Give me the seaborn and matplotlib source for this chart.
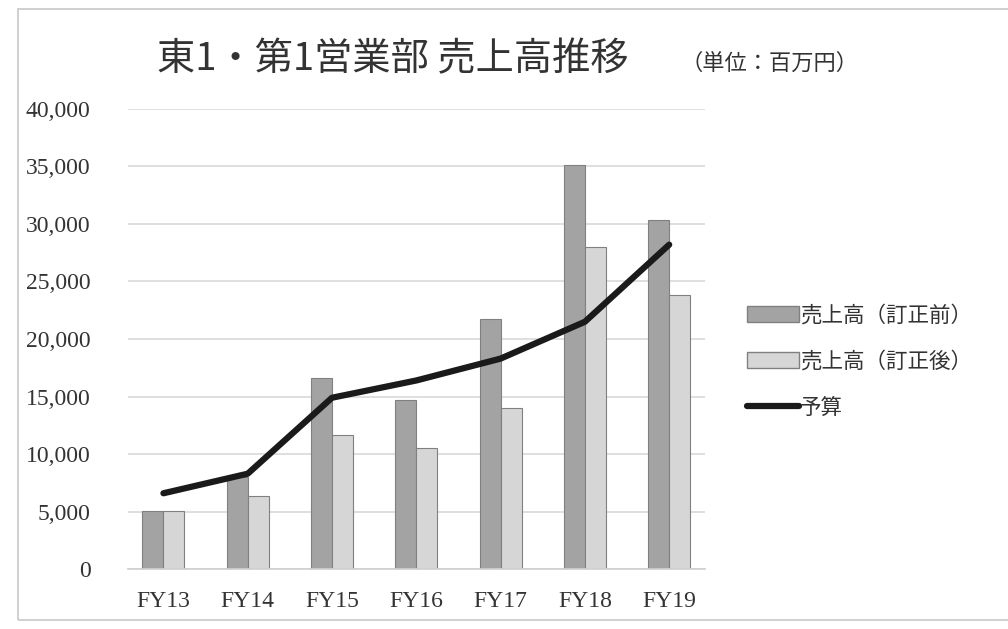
import numpy as np
import pandas as pd
import matplotlib
matplotlib.use("Agg")
import matplotlib.pyplot as plt
import seaborn as sns
from matplotlib.patches import Patch, Rectangle
from matplotlib.lines import Line2D
from matplotlib.ticker import FuncFormatter

categories = ["FY13", "FY14", "FY15", "FY16", "FY17", "FY18", "FY19"]
sales_before = [5100, 8000, 16600, 14700, 21700, 35100, 30300]
sales_after = [5100, 6400, 11650, 10500, 14000, 28000, 23800]
budget = [6600, 8300, 14900, 16400, 18300, 21500, 28200]
yticks = [0, 5000, 10000, 15000, 20000, 25000, 30000, 35000, 40000]

name_before = "売上高（訂正前）"
name_after = "売上高（訂正後）"
name_budget = "予算"

sns.set_theme(style="white")
plt.rcParams["font.family"] = ["Noto Sans CJK JP", "DejaVu Sans"]

df = pd.DataFrame({
    "cat": categories * 2,
    "val": sales_before + sales_after,
    "series": [name_before] * len(categories) + [name_after] * len(categories),
})

fig = plt.figure(figsize=(10.08, 6.29), dpi=100)
fig.patch.set_facecolor("white")
fig.patches.append(Rectangle((0.018, 0.015), 0.985, 0.97, transform=fig.transFigure,
                             fill=False, edgecolor="#c8c8c8", linewidth=1.2))

ax = fig.add_axes([0.127, 0.095, 0.572, 0.732])
col_before = "#a3a3a3"
col_after = "#d6d6d6"
sns.barplot(data=df, x="cat", y="val", hue="series", order=categories,
            hue_order=[name_before, name_after],
            palette=[col_before, col_after], width=0.5, gap=0,
            edgecolor="#808080", linewidth=0.8, legend=False, ax=ax)
sns.lineplot(x=np.arange(len(categories)), y=budget, color="#1a1a1a",
             linewidth=4.5, ax=ax, legend=False, zorder=5)

ax.set_ylim(0, 40000)
ax.set_xlim(-0.42, len(categories) - 0.58)
ax.set_yticks(yticks)
ax.yaxis.set_major_formatter(FuncFormatter(lambda v, p: f"{int(v):,}"))
ax.grid(axis="y", color="#d9d9d9", linewidth=1.2)
ax.set_axisbelow(True)
for s in ["top", "right", "left"]:
    ax.spines[s].set_visible(False)
ax.spines["bottom"].set_color("#d0d0d0")
ax.set_xlabel("")
ax.set_ylabel("")
ax.tick_params(axis="y", length=0, pad=27, labelsize=17, labelcolor="#333333")
ax.tick_params(axis="x", length=0, pad=16, labelsize=17, labelcolor="#333333")
for lbl in ax.get_yticklabels() + ax.get_xticklabels():
    lbl.set_family(["Liberation Serif", "DejaVu Serif"])

fig.text(0.39, 0.905, "東1・第1営業部 売上高推移", ha="center", va="center",
         fontsize=27.5, color="#333333")
fig.text(0.763, 0.9, "（単位：百万円）", ha="center", va="center",
         fontsize=16, color="#333333")

handles = [
    Patch(facecolor=col_before, edgecolor="#808080", label=name_before),
    Patch(facecolor=col_after, edgecolor="#808080", label=name_after),
    Line2D([0], [0], color="#1a1a1a", linewidth=4.5, label=name_budget),
]
fig.legend(handles=handles, loc="center left", bbox_to_anchor=(0.722, 0.425),
           frameon=False, fontsize=15.5, handlelength=2.4, handleheight=0.8,
           handletextpad=0.05, labelspacing=1.12, labelcolor="#333333")

fig.savefig("out.png", dpi=100, facecolor="white")
